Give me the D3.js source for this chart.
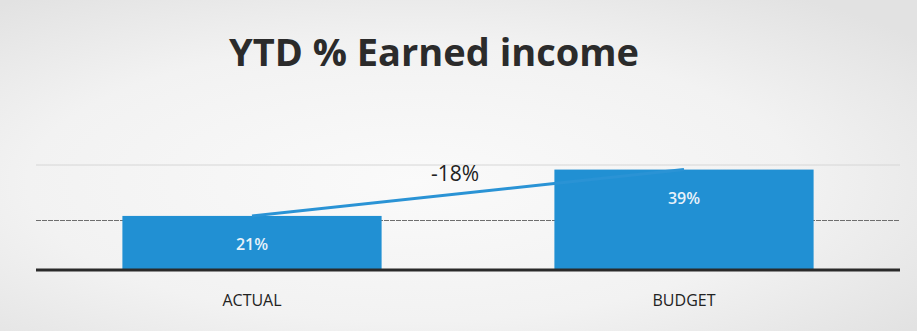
<!DOCTYPE html>
<html><head><meta charset="utf-8">
<script src="https://cdn.jsdelivr.net/npm/d3@7"></script>
<style>
html,body{margin:0;padding:0;background:#eeeeee;}
svg{display:block;}
</style></head>
<body><svg id="chart" width="917" height="331"></svg>
<script>
const categories = ["ACTUAL", "BUDGET"];
const values = [21, 39];
const valueLabels = ["21%", "39%"];
const gridTicks = [20, 40];
const diffLabel = "-18%";
const title = "YTD % Earned income";

const W = 917, H = 331;
const svg = d3.select("#chart");
const defs = svg.append("defs");
const bg = defs.append("radialGradient").attr("id","bg").attr("cx","45%").attr("cy","55%").attr("r","70%");
bg.append("stop").attr("offset","0%").attr("stop-color","#fafafa");
bg.append("stop").attr("offset","60%").attr("stop-color","#f2f2f2");
bg.append("stop").attr("offset","100%").attr("stop-color","#e2e2e2");
svg.append("rect").attr("width",W).attr("height",H).attr("fill","url(#bg)");

const margin = {left:36, right:17};
const baseY = 270;
const x = d3.scaleBand().domain(categories).range([margin.left, W - margin.right]).paddingInner(0.4).paddingOuter(0.2);
const y = d3.scaleLinear().domain([0, 40]).range([baseY, 167]);

// gridlines
svg.append("g").selectAll("line").data(gridTicks).join("line")
  .attr("x1", margin.left).attr("x2", W - margin.right)
  .attr("y1", d => y(d) + (d === 20 ? 2 : -2)).attr("y2", d => y(d) + (d === 20 ? 2 : -2))
  .attr("stroke", (d,i) => i === 0 ? "#6e6e6e" : "#d6d6d6")
  .attr("stroke-width", (d,i) => i === 0 ? 1.2 : 1)
  .attr("stroke-dasharray", (d,i) => i === 0 ? "5,1" : null);

// bars
svg.append("g").selectAll("rect").data(values).join("rect")
  .attr("x", (d,i) => x(categories[i]))
  .attr("width", x.bandwidth())
  .attr("y", d => y(d))
  .attr("height", d => baseY - y(d))
  .attr("fill", "#2190d3");

// baseline
svg.append("line").attr("x1", margin.left).attr("x2", W - margin.right)
  .attr("y1", baseY).attr("y2", baseY).attr("stroke", "#2a2a2a").attr("stroke-width", 3);

// connector line
const pts = values.map((v,i) => [x(categories[i]) + x.bandwidth()/2, y(v)]);
svg.append("path").attr("d", d3.line()(pts)).attr("stroke", "#2a93d5").attr("stroke-width", 3).attr("fill","none");

// value labels
svg.append("g").selectAll("text").data(values).join("text")
  .attr("x", (d,i) => x(categories[i]) + x.bandwidth()/2)
  .attr("y", d => y(d) + 34)
  .attr("text-anchor","middle")
  .attr("font-family","Open Sans, sans-serif").attr("font-weight", 600).attr("font-size", 16)
  .attr("fill","#e8f2fa")
  .text((d,i) => valueLabels[i]);

// diff label
svg.append("text")
  .attr("x", (pts[0][0] + pts[1][0]) / 2 - 13)
  .attr("y", 181)
  .attr("text-anchor","middle")
  .attr("font-family","Open Sans, sans-serif").attr("font-size", 21)
  .attr("fill","#222")
  .text(diffLabel);

// category axis labels
const xAxis = svg.append("g").attr("transform", `translate(0,${baseY})`)
  .call(d3.axisBottom(x).tickSize(0).tickPadding(25));
xAxis.select(".domain").remove();
xAxis.selectAll("text").attr("font-family","Open Sans, sans-serif").attr("font-size", 16).attr("fill","#222");

// title
svg.append("text").attr("x", 434).attr("y", 66).attr("text-anchor","middle")
  .attr("font-family","Open Sans, sans-serif").attr("font-weight","bold").attr("font-size", 38)
  .attr("fill","#2b2b2b").text(title);
</script>
</body></html>
